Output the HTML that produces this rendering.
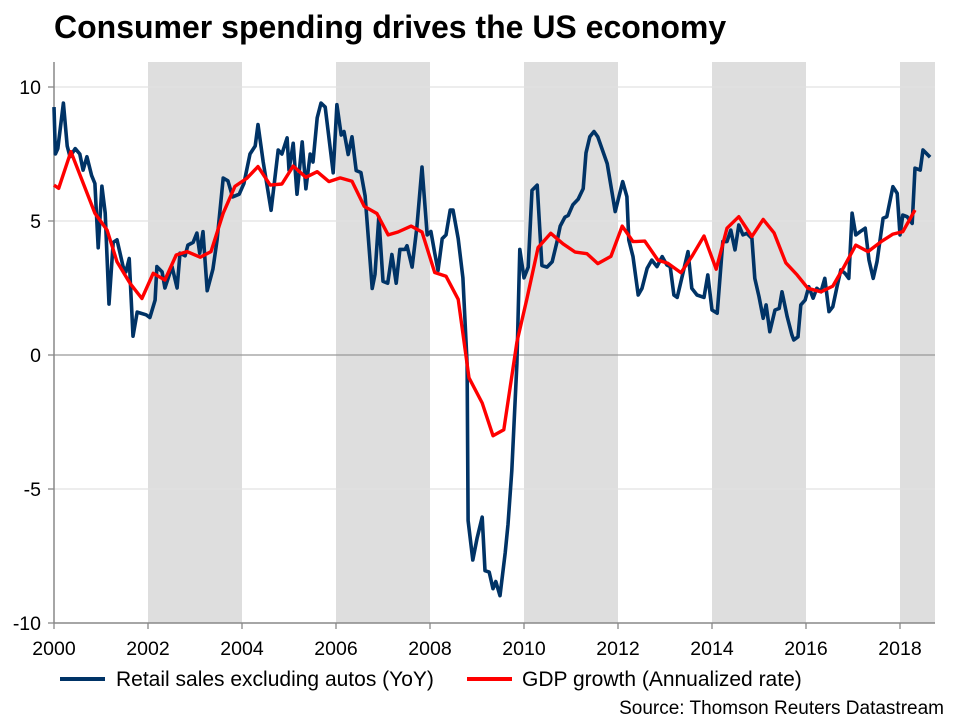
<!DOCTYPE html>
<html><head><meta charset="utf-8"><style>
body{margin:0;background:#fff;width:960px;height:720px;overflow:hidden;font-family:"Liberation Sans",Arial,sans-serif}
</style></head><body>
<svg id="chart" width="960" height="720" xmlns="http://www.w3.org/2000/svg" font-family="Liberation Sans, Arial, sans-serif">
<text x="54" y="38" font-size="32" font-weight="bold" fill="#000">Consumer spending drives the US economy</text>
<g id="bands"></g><g id="grid"></g><g id="axes"></g><g id="series"></g>
<g>
<line x1="60" y1="679" x2="105" y2="679" stroke="#003366" stroke-width="4"/>
<text x="116" y="686" font-size="21" fill="#000">Retail sales excluding autos (YoY)</text>
<line x1="467" y1="679" x2="512" y2="679" stroke="#ff0000" stroke-width="4"/>
<text x="522" y="686" font-size="21" fill="#000">GDP growth (Annualized rate)</text>
</g>
<text x="944" y="714" font-size="19" text-anchor="end" fill="#000">Source: Thomson Reuters Datastream</text>
</svg>
<script>
const retailDates=[2000.0,2000.03,2000.08,2000.2,2000.28,2000.34,2000.45,2000.55,2000.62,2000.7,2000.8,2000.87,2000.94,2001.02,2001.09,2001.17,2001.26,2001.34,2001.47,2001.53,2001.6,2001.68,2001.77,2001.96,2002.04,2002.15,2002.19,2002.3,2002.36,2002.51,2002.62,2002.68,2002.79,2002.85,2002.96,2003.04,2003.1,2003.17,2003.26,2003.38,2003.47,2003.6,2003.7,2003.8,2003.94,2004.04,2004.17,2004.28,2004.34,2004.45,2004.62,2004.77,2004.85,2004.96,2005.0,2005.09,2005.17,2005.28,2005.36,2005.45,2005.51,2005.6,2005.68,2005.77,2005.94,2006.02,2006.11,2006.17,2006.26,2006.34,2006.43,2006.53,2006.62,2006.77,2006.83,2006.91,2007.0,2007.1,2007.19,2007.28,2007.36,2007.47,2007.51,2007.62,2007.72,2007.83,2007.94,2008.02,2008.1,2008.17,2008.26,2008.34,2008.43,2008.49,2008.6,2008.7,2008.79,2008.81,2008.91,2009.0,2009.11,2009.17,2009.26,2009.34,2009.4,2009.49,2009.6,2009.66,2009.74,2009.85,2009.91,2010.0,2010.09,2010.17,2010.28,2010.38,2010.49,2010.6,2010.7,2010.77,2010.87,2010.94,2011.04,2011.15,2011.26,2011.32,2011.4,2011.49,2011.57,2011.77,2011.94,2012.1,2012.19,2012.23,2012.32,2012.43,2012.51,2012.62,2012.72,2012.83,2012.94,2013.04,2013.11,2013.19,2013.26,2013.38,2013.49,2013.57,2013.68,2013.83,2013.91,2014.0,2014.11,2014.23,2014.32,2014.4,2014.49,2014.57,2014.66,2014.74,2014.85,2014.91,2015.0,2015.09,2015.15,2015.23,2015.34,2015.43,2015.49,2015.6,2015.7,2015.74,2015.83,2015.89,2015.98,2016.06,2016.15,2016.23,2016.32,2016.4,2016.49,2016.57,2016.66,2016.74,2016.83,2016.91,2016.98,2017.06,2017.15,2017.26,2017.34,2017.43,2017.51,2017.64,2017.72,2017.85,2017.94,2018.0,2018.06,2018.15,2018.26,2018.32,2018.43,2018.49,2018.64];
const retailValues=[9.25,7.5,7.7,9.4,7.8,7.4,7.7,7.5,6.9,7.4,6.7,6.4,4.0,6.3,5.3,1.9,4.2,4.3,3.3,3.1,3.6,0.7,1.6,1.5,1.4,2.05,3.3,3.1,2.5,3.3,2.5,3.8,3.7,4.1,4.2,4.55,3.8,4.6,2.4,3.2,4.3,6.6,6.5,5.9,6.0,6.4,7.5,7.8,8.6,7.2,5.4,7.65,7.5,8.1,6.9,7.9,6.0,7.95,6.2,7.5,7.2,8.85,9.4,9.25,6.8,9.34,8.21,8.34,7.48,8.14,6.88,6.81,5.94,2.48,3.01,5.14,2.75,2.68,3.75,2.68,3.94,3.94,4.08,3.28,4.74,7.01,4.48,4.61,3.81,3.15,4.34,4.48,5.41,5.41,4.34,2.88,-0.32,-6.18,-7.65,-6.85,-6.05,-8.05,-8.1,-8.72,-8.45,-8.98,-7.38,-6.32,-4.32,-0.32,3.94,2.88,3.28,6.14,6.34,3.34,3.28,3.48,4.21,4.81,5.14,5.21,5.61,5.81,6.21,7.54,8.14,8.34,8.14,7.14,5.35,6.47,5.91,4.29,3.67,2.24,2.49,3.23,3.54,3.3,3.67,3.36,3.3,2.24,2.15,3.05,3.86,2.49,2.24,2.15,2.99,1.68,1.56,4.23,4.23,4.66,3.92,4.85,4.48,4.54,4.35,2.86,2.18,1.37,1.87,0.87,1.68,1.74,2.36,1.43,0.75,0.56,0.68,1.87,2.05,2.55,2.12,2.49,2.36,2.86,1.62,1.8,2.55,3.17,3.05,2.86,5.29,4.48,4.6,4.73,3.54,2.86,3.48,5.1,5.16,6.28,6.03,4.48,5.22,5.16,4.91,6.97,6.9,7.65,7.38];
const gdpDates=[2000.0,2000.1,2000.36,2000.87,2001.13,2001.34,2001.62,2001.87,2002.11,2002.36,2002.6,2002.83,2003.11,2003.34,2003.6,2003.85,2004.1,2004.34,2004.6,2004.85,2005.09,2005.36,2005.6,2005.85,2006.09,2006.34,2006.6,2006.87,2007.11,2007.32,2007.6,2007.83,2008.1,2008.34,2008.6,2008.83,2009.11,2009.34,2009.57,2009.85,2010.06,2010.3,2010.57,2010.83,2011.09,2011.34,2011.57,2011.85,2012.09,2012.32,2012.57,2012.85,2013.06,2013.34,2013.57,2013.83,2014.09,2014.32,2014.57,2014.85,2015.09,2015.32,2015.57,2015.81,2016.04,2016.32,2016.57,2016.81,2017.06,2017.32,2017.6,2017.85,2018.06,2018.32];
const gdpValues=[6.34,6.22,7.59,5.29,4.66,3.48,2.67,2.11,3.05,2.8,3.73,3.86,3.65,3.86,5.29,6.29,6.59,7.03,6.34,6.38,7.05,6.63,6.84,6.47,6.61,6.48,5.55,5.28,4.48,4.59,4.81,4.59,3.08,2.94,2.08,-0.85,-1.79,-3.01,-2.79,0.48,2.08,4.01,4.54,4.15,3.84,3.78,3.41,3.68,4.81,4.23,4.25,3.54,3.42,3.07,3.67,4.44,3.2,4.73,5.16,4.42,5.06,4.56,3.44,2.99,2.49,2.36,2.57,3.3,4.1,3.86,4.23,4.51,4.6,5.41];
const yTicks=[10,5,0,-5,-10];
const xTicks=[2000,2002,2004,2006,2008,2010,2012,2014,2016,2018];
const shadeStarts=[2002,2006,2010,2014,2018];
const NS='http://www.w3.org/2000/svg';
const X0=54,X1=935,Y0=62,Y1=623;
const x=d=>54+(d-2000)*47;
const y=v=>355-v*26.8;
function mk(tag,attrs,parent){const e=document.createElementNS(NS,tag);for(const k in attrs)e.setAttribute(k,attrs[k]);parent.appendChild(e);return e;}
const bands=document.getElementById('bands'),grid=document.getElementById('grid'),axes=document.getElementById('axes'),series=document.getElementById('series');
shadeStarts.forEach(s=>{const x2=Math.min(x(s+2),X1);
 const r=mk('rect',{x:x(s),y:Y0,width:x2-x(s),height:Y1-Y0,fill:'#dedede'},bands);
 
 });
yTicks.forEach(t=>{
 if(t!==-10){const l=mk('line',{x1:X0,x2:X1,y1:y(t),y2:y(t),stroke:t===0?'#999':'#e2e2e2','stroke-width':1.3},grid);
 
 }
 mk('line',{x1:X0-6,x2:X0,y1:y(t),y2:y(t),stroke:'#888','stroke-width':1.3},axes);
 const tx=mk('text',{x:41,y:y(t)+7,'font-size':19.5,'text-anchor':'end',fill:'#000'},axes);tx.textContent=t;
 
 });
xTicks.forEach(t=>{
 mk('line',{x1:x(t),x2:x(t),y1:Y1,y2:Y1+6,stroke:'#888','stroke-width':1.3},axes);
 const tx=mk('text',{x:x(t),y:655,'font-size':19.5,'text-anchor':'middle',fill:'#000'},axes);tx.textContent=t;
 
 });
const ax=mk('line',{x1:X0,x2:X0,y1:Y0,y2:Y1,stroke:'#888','stroke-width':1.5},axes);


const bx=mk('line',{x1:X0,x2:X1,y1:Y1,y2:Y1,stroke:'#888','stroke-width':1.5},axes);


function line(ds,vs,col,w,name){const p=mk('polyline',{points:ds.map((d,i)=>x(d).toFixed(1)+','+y(vs[i]).toFixed(1)).join(' '),fill:'none',stroke:col,'stroke-width':w,'stroke-linejoin':'round'},series);
 
 }
line(retailDates,retailValues,'#003366',3.6,'retail-sales-line');
line(gdpDates,gdpValues,'#ff0000',3.4,'gdp-growth-line');
</script>
</body></html>
